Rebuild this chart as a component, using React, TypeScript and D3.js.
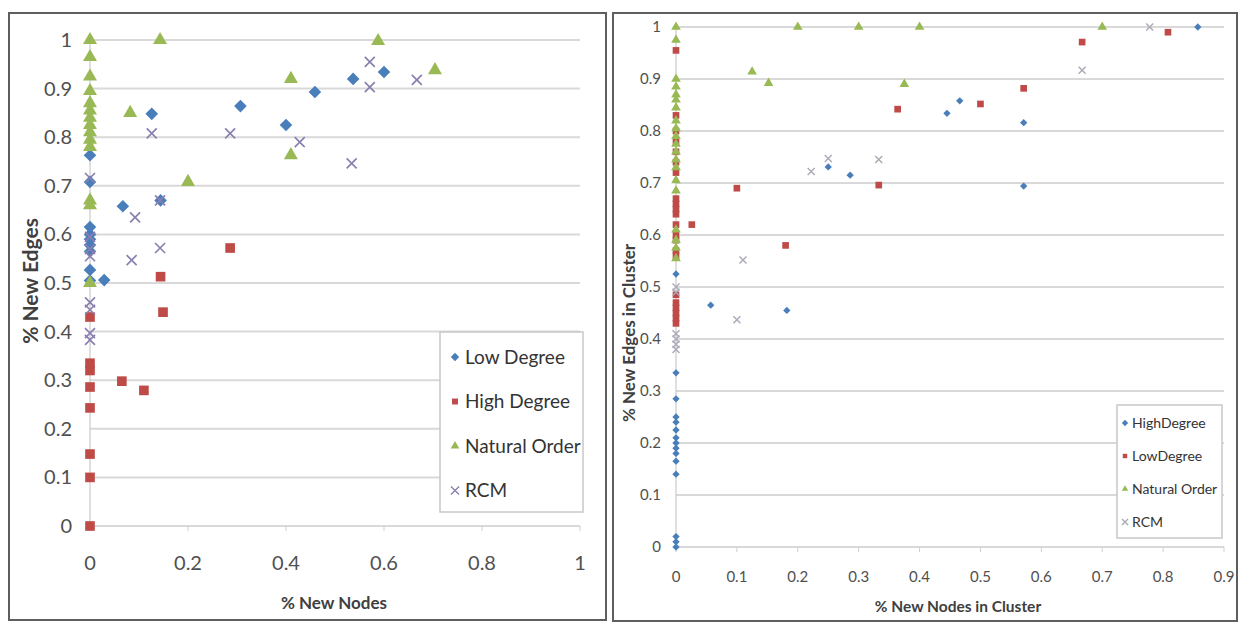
import React, { useEffect, useRef } from "react";
import * as d3 from "d3";

type Pt = [number, number];

// ---- left panel data (x = % new nodes, y = % new edges)
const leftXTicks = [0, 0.2, 0.4, 0.6, 0.8, 1];
const leftYTicks = [0, 0.1, 0.2, 0.3, 0.4, 0.5, 0.6, 0.7, 0.8, 0.9, 1];
const leftLegend = ["Low Degree", "High Degree", "Natural Order", "RCM"];

const leftLowDegree: Pt[] = [
  [0, 0.763], [0, 0.708], [0, 0.615], [0, 0.6], [0, 0.59], [0, 0.578], [0, 0.565],
  [0, 0.527], [0, 0.505], [0.029, 0.506], [0.067, 0.658], [0.126, 0.848], [0.144, 0.67],
  [0.307, 0.864], [0.4, 0.825], [0.459, 0.893], [0.537, 0.92], [0.6, 0.934],
];
const leftHighDegree: Pt[] = [
  [0, 0.43], [0, 0.335], [0, 0.32], [0, 0.286], [0, 0.243], [0, 0.148], [0, 0.1], [0, 0],
  [0.065, 0.298], [0.11, 0.279], [0.144, 0.513], [0.149, 0.44], [0.286, 0.572],
];
const leftNatural: Pt[] = [
  [0, 1], [0, 0.965], [0, 0.925], [0, 0.895], [0, 0.87], [0, 0.855], [0, 0.84], [0, 0.825],
  [0, 0.81], [0, 0.795], [0, 0.78], [0, 0.67], [0, 0.66], [0, 0.5], [0.143, 1], [0.082, 0.85],
  [0.2, 0.708], [0.41, 0.92], [0.41, 0.763], [0.588, 0.998], [0.704, 0.938],
];
const leftRCM: Pt[] = [
  [0, 0.716], [0, 0.595], [0, 0.57], [0, 0.555], [0, 0.46], [0, 0.445], [0, 0.397], [0, 0.383],
  [0.085, 0.547], [0.092, 0.635], [0.126, 0.808], [0.143, 0.67], [0.143, 0.572], [0.286, 0.808],
  [0.428, 0.79], [0.534, 0.746], [0.571, 0.955], [0.571, 0.903], [0.667, 0.918],
];

// ---- right panel data (x = % new nodes in cluster, y = % new edges in cluster)
const rightXTicks = [0, 0.1, 0.2, 0.3, 0.4, 0.5, 0.6, 0.7, 0.8, 0.9];
const rightYTicks = [0, 0.1, 0.2, 0.3, 0.4, 0.5, 0.6, 0.7, 0.8, 0.9, 1];
const rightLegend = ["HighDegree", "LowDegree", "Natural Order", "RCM"];

const rightHighDegree: Pt[] = [
  [0, 0.525], [0, 0.335], [0, 0.285], [0, 0.25], [0, 0.24], [0, 0.225], [0, 0.21], [0, 0.2],
  [0, 0.19], [0, 0.18], [0, 0.165], [0, 0.14], [0, 0.02], [0, 0.01], [0, 0],
  [0.057, 0.465], [0.182, 0.455], [0.25, 0.731], [0.286, 0.715], [0.445, 0.834],
  [0.466, 0.858], [0.571, 0.816], [0.571, 0.694], [0.857, 1],
];
const rightLowDegree: Pt[] = [
  [0, 0.955], [0, 0.83], [0, 0.8], [0, 0.78], [0, 0.76], [0, 0.74], [0, 0.72], [0, 0.67],
  [0, 0.66], [0, 0.65], [0, 0.64], [0, 0.62], [0, 0.6], [0, 0.59], [0, 0.57], [0, 0.56],
  [0, 0.485], [0, 0.47], [0, 0.46], [0, 0.45], [0, 0.44], [0, 0.43],
  [0.026, 0.62], [0.1, 0.69], [0.18, 0.58], [0.333, 0.696], [0.364, 0.842], [0.5, 0.852],
  [0.571, 0.882], [0.667, 0.971], [0.808, 0.99],
];
const rightNatural: Pt[] = [
  [0, 1], [0, 0.975], [0, 0.9], [0, 0.885], [0, 0.87], [0, 0.86], [0, 0.845], [0, 0.82],
  [0, 0.805], [0, 0.79], [0, 0.775], [0, 0.76], [0, 0.745], [0, 0.73], [0, 0.705], [0, 0.685],
  [0, 0.61], [0, 0.59], [0, 0.575], [0, 0.555],
  [0.125, 0.914], [0.152, 0.892], [0.2, 1], [0.3, 1], [0.4, 1], [0.375, 0.89], [0.7, 1],
];
const rightRCM: Pt[] = [
  [0, 0.5], [0, 0.49], [0, 0.41], [0, 0.4], [0, 0.39], [0, 0.38],
  [0.1, 0.437], [0.11, 0.552], [0.222, 0.722], [0.25, 0.747], [0.333, 0.745],
  [0.667, 0.917], [0.778, 1],
];

const BLUE = "#4a7ebb";
const RED = "#be4b48";
const GREEN = "#98b954";

type Shape = "diamond" | "square" | "triangle" | "x";

function drawMarker(g: any, shape: Shape, x: number, y: number, s: number, color: string) {
  if (shape === "x") {
    const h = s / 2;
    g.append("path")
      .attr("d", `M${x - h},${y - h}L${x + h},${y + h}M${x - h},${y + h}L${x + h},${y - h}`)
      .attr("stroke", color)
      .attr("stroke-width", Math.max(1.4, s / 6))
      .attr("fill", "none");
    return;
  }
  const area = shape === "triangle" ? s * s * 0.5 : s * s * 0.55;
  const type = shape === "triangle" ? d3.symbolTriangle : d3.symbolSquare;
  g.append("path")
    .attr("d", d3.symbol().type(type).size(area)())
    .attr("transform", `translate(${x},${y})${shape === "diamond" ? " rotate(45)" : ""}`)
    .attr("fill", color);
}

const App = () => {
  const ref = useRef<SVGSVGElement>(null);

  useEffect(() => {
    const svg = d3.select(ref.current);
    svg.selectAll("*").remove();
    svg.append("rect").attr("width", 1248).attr("height", 625).attr("fill", "#fff");

    const font = "Lato, 'Open Sans', sans-serif";

    const panel = (cfg: any) => {
      const g = svg.append("g");
      g.append("rect")
        .attr("x", cfg.frame[0]).attr("y", cfg.frame[1])
        .attr("width", cfg.frame[2]).attr("height", cfg.frame[3])
        .attr("fill", "none").attr("stroke", "#5e5e5e").attr("stroke-width", 2);

      const x = d3.scaleLinear().domain(cfg.xDomain).range(cfg.xRange);
      const y = d3.scaleLinear().domain([0, 1]).range(cfg.yRange);

      // gridlines
      g.selectAll(".grid").data(cfg.yTicks).enter().append("line")
        .attr("x1", x(0)).attr("x2", cfg.xRange[1])
        .attr("y1", (d: number) => y(d)).attr("y2", (d: number) => y(d))
        .attr("stroke", "#d9d9d9").attr("stroke-width", 2);
      // y axis line
      g.append("line").attr("x1", x(0)).attr("x2", x(0))
        .attr("y1", y(0)).attr("y2", y(1))
        .attr("stroke", "#bfbfbf").attr("stroke-width", 1);
      // x tick marks
      g.selectAll(".xt").data(cfg.xTicks).enter().append("line")
        .attr("x1", (d: number) => x(d)).attr("x2", (d: number) => x(d))
        .attr("y1", y(0)).attr("y2", y(0) + 5)
        .attr("stroke", "#cfcfcf").attr("stroke-width", 1);

      g.selectAll(".yl").data(cfg.yTicks).enter().append("text")
        .attr("x", cfg.yLabelX).attr("y", (d: number) => y(d))
        .attr("dy", "0.35em").attr("text-anchor", "end")
        .attr("font-family", font).attr("font-size", cfg.tickSize).attr("fill", "#505050")
        .text((d: number) => d3.format("~g")(d));
      g.selectAll(".xl").data(cfg.xTicks).enter().append("text")
        .attr("x", (d: number) => x(d)).attr("y", cfg.xLabelY)
        .attr("dy", "0.35em").attr("text-anchor", "middle")
        .attr("font-family", font).attr("font-size", cfg.tickSize).attr("fill", "#505050")
        .text((d: number) => d3.format("~g")(d));

      g.append("text")
        .attr("x", cfg.xTitle[0]).attr("y", cfg.xTitle[1]).attr("dy", "0.35em")
        .attr("text-anchor", "middle").attr("font-family", font).attr("font-weight", "bold")
        .attr("font-size", cfg.xTitleSize).attr("fill", "#404040").text(cfg.xTitleText);
      g.append("text")
        .attr("transform", `translate(${cfg.yTitle[0]},${cfg.yTitle[1]}) rotate(-90)`)
        .attr("dy", "0.35em")
        .attr("text-anchor", "middle").attr("font-family", font).attr("font-weight", "bold")
        .attr("font-size", cfg.yTitleSize).attr("fill", "#404040").text(cfg.yTitleText);

      const marks = g.append("g");
      cfg.series.forEach((s: any) => {
        s.data.forEach((p: Pt) => drawMarker(marks, s.shape, x(p[0]), y(p[1]), s.size, s.color));
      });

      // legend
      const [lx, ly, lw, lh] = cfg.legendBox;
      const lg = g.append("g");
      lg.append("rect").attr("x", lx).attr("y", ly).attr("width", lw).attr("height", lh)
        .attr("fill", "#fff").attr("stroke", "#c8c8c8").attr("stroke-width", 1.5);
      cfg.series.forEach((s: any, i: number) => {
        const cy = ly + cfg.legendStart + i * cfg.legendStep;
        drawMarker(lg, s.shape, lx + cfg.legendMarkerDx, cy, cfg.legendMarker, s.color);
        lg.append("text").attr("x", lx + cfg.legendTextDx).attr("y", cy).attr("dy", "0.35em")
          .attr("font-family", font).attr("font-size", cfg.legendSize).attr("fill", "#333")
          .text(cfg.legend[i]);
      });
    };

    panel({
      frame: [9, 13, 597, 607],
      xDomain: [0, 1], xRange: [90, 580], yRange: [526, 40],
      xTicks: leftXTicks, yTicks: leftYTicks,
      yLabelX: 72, xLabelY: 563, tickSize: 20, xTitleSize: 17, yTitleSize: 21,
      xTitle: [334, 603], xTitleText: "% New Nodes",
      yTitle: [31, 281], yTitleText: "% New Edges",
      legend: leftLegend,
      legendBox: [440, 332, 143, 180], legendStart: 25, legendStep: 44.5,
      legendMarkerDx: 15, legendTextDx: 25, legendMarker: 8, legendSize: 19,
      series: [
        { data: leftLowDegree, shape: "diamond", color: BLUE, size: 12 },
        { data: leftHighDegree, shape: "square", color: RED, size: 13 },
        { data: leftNatural, shape: "triangle", color: GREEN, size: 13 },
        { data: leftRCM, shape: "x", color: "#8a7fae", size: 10 },
      ],
    });

    panel({
      frame: [613, 13, 624, 608],
      xDomain: [0, 0.9], xRange: [676, 1224], yRange: [547, 27],
      xTicks: rightXTicks, yTicks: rightYTicks,
      yLabelX: 661, xLabelY: 577, tickSize: 15, xTitleSize: 15.5, yTitleSize: 17,
      xTitle: [958, 607], xTitleText: "% New Nodes in Cluster",
      yTitle: [629, 333], yTitleText: "% New Edges in Cluster",
      legend: rightLegend,
      legendBox: [1117, 405, 105, 133], legendStart: 18, legendStep: 33,
      legendMarkerDx: 8, legendTextDx: 15, legendMarker: 6, legendSize: 14,
      series: [
        { data: rightHighDegree, shape: "diamond", color: BLUE, size: 7 },
        { data: rightLowDegree, shape: "square", color: RED, size: 9 },
        { data: rightNatural, shape: "triangle", color: GREEN, size: 9 },
        { data: rightRCM, shape: "x", color: "#a9a9b8", size: 7 },
      ],
    });
  }, []);

  return (
    <svg
      ref={ref}
      width={1248}
      height={625}
      style={{ position: "absolute", left: 0, top: 0 }}
    />
  );
};

export default App;
